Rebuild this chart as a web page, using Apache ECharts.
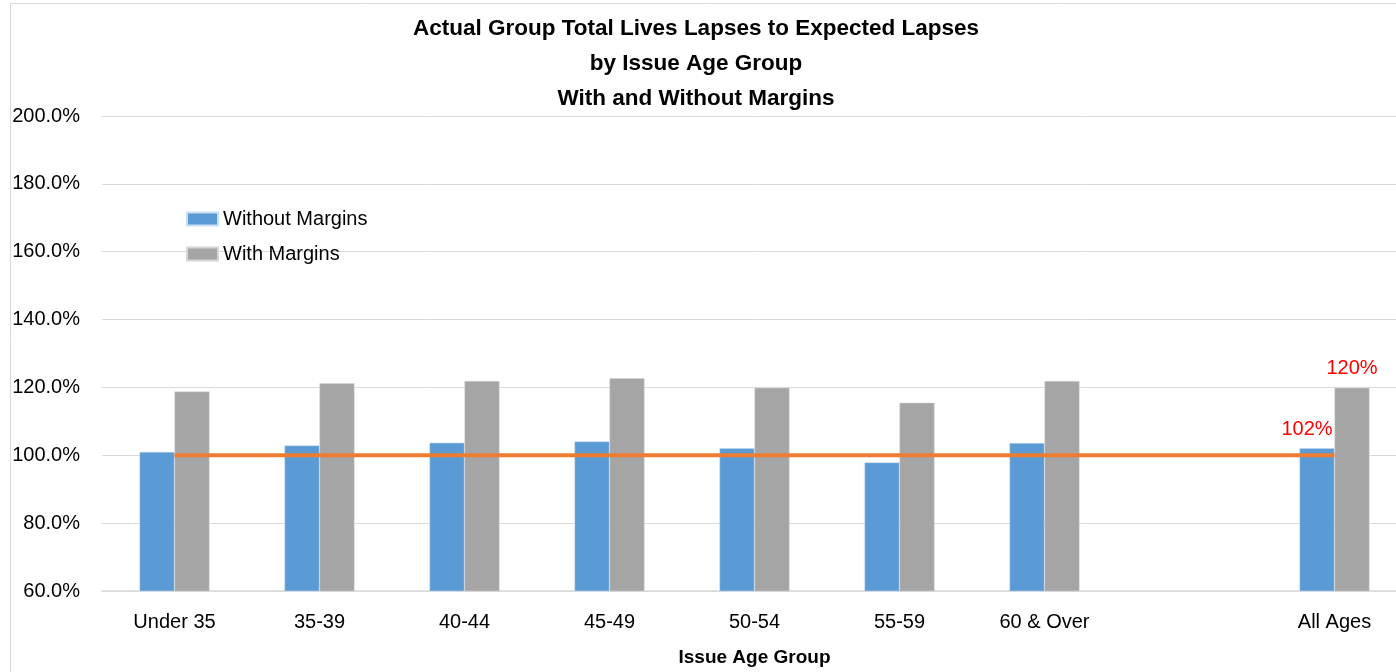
<!DOCTYPE html>
<html>
<head>
<meta charset="utf-8">
<script src="https://cdn.jsdelivr.net/npm/echarts@6/dist/echarts.min.js"></script>
<style>
html,body{margin:0;padding:0;background:#fff;overflow:hidden;width:1396px;height:672px;}
#chart{width:1412px;height:672px;}
</style>
</head>
<body>
<div id="chart"></div>
<script>
var categories = ['Under 35','35-39','40-44','45-49','50-54','55-59','60 & Over','','All Ages'];
var withoutMargins = [101.0, 102.9, 103.7, 104.1, 102.1, 97.9, 103.6, null, 102.1];
var withMargins = [118.8, 121.2, 121.9, 122.7, 119.9, 115.5, 121.9, null, 119.9];
var expected = [100, 100, 100, 100, 100, 100, 100, 100, 100];
var labeledCategory = 'All Ages';
var yTicks = {min: 60, max: 200, interval: 20};

var FONT = '"Liberation Sans", Arial, sans-serif';
function withLabels(arr, dx){
  return arr.map(function(v, i){
    if (categories[i] === labeledCategory && v != null) {
      return {value: v, label: {show: true, position: 'top', distance: 9, offset: [dx, 0], color: '#ff0000', fontSize: 20, fontFamily: FONT,
        formatter: function(p){ return Math.round(p.value) + '%'; }}};
    }
    return v;
  });
}

var chart = echarts.init(document.getElementById('chart'), null, {renderer: 'canvas'});
chart.setOption({
  backgroundColor: '#ffffff',
  animation: false,
  graphic: [{
    type: 'rect', silent: true, z: -10,
    shape: {x: 10.5, y: 3.5, width: 1500, height: 700},
    style: {fill: 'none', stroke: '#d9d9d9', lineWidth: 1}
  }],
  title: {
    text: 'Actual Group Total Lives Lapses to Expected Lapses\nby Issue Age Group\nWith and Without Margins',
    left: 696, top: 11, padding: 0, textAlign: 'center',
    textStyle: {fontFamily: FONT, fontWeight: 'bold', fontSize: 22.5, lineHeight: 35, color: '#000'}
  },
  legend: {
    orient: 'vertical', left: 186, top: 208, padding: 0,
    itemWidth: 31, itemHeight: 13, itemGap: 13,
    icon: 'rect',
    textStyle: {fontFamily: FONT, fontSize: 20, lineHeight: 22, color: '#000'},
    data: ['Without Margins', 'With Margins']
  },
  grid: {left: 102, width: 1305, top: 116, bottom: 80, containLabel: false},
  xAxis: {
    type: 'category', data: categories,
    name: 'Issue Age Group', nameLocation: 'middle', nameGap: 57,
    nameTextStyle: {fontFamily: FONT, fontWeight: 'bold', fontSize: 19, color: '#000'},
    axisLine: {lineStyle: {color: '#d9d9d9', width: 1.5}},
    axisTick: {show: false},
    axisLabel: {fontFamily: FONT, fontSize: 20, color: '#000', margin: 21, interval: 0}
  },
  yAxis: {
    type: 'value', min: yTicks.min, max: yTicks.max, interval: yTicks.interval,
    axisLine: {show: false}, axisTick: {show: false},
    splitLine: {lineStyle: {color: '#d9d9d9', width: 1}},
    axisLabel: {fontFamily: FONT, fontSize: 20, color: '#000', margin: 22,
      formatter: function(v){ return v.toFixed(1) + '%'; }}
  },
  series: [
    {name: 'Without Margins', type: 'bar', data: withLabels(withoutMargins, -10), barWidth: 35, barGap: '0%',
      itemStyle: {color: '#5b9bd5', borderColor: '#c9def2', borderWidth: 0.5}},
    {name: 'With Margins', type: 'bar', data: withLabels(withMargins, 0), barWidth: 35, barGap: '0%',
      itemStyle: {color: '#a5a5a5', borderColor: '#d6d6d6', borderWidth: 0.5}},
    {name: 'Expected', type: 'line', data: expected, showSymbol: false, symbol: 'none',
      lineStyle: {color: '#ed7d31', width: 4}, z: 5}
  ]
});
</script>
</body>
</html>
